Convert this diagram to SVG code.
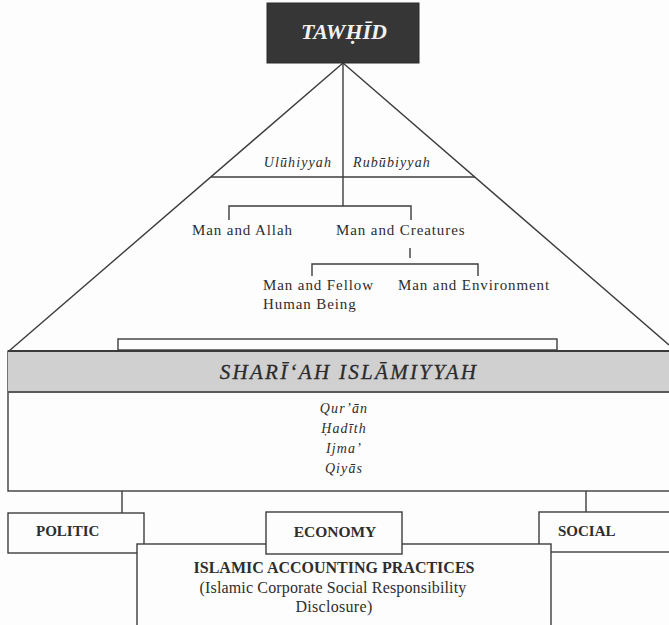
<svg xmlns="http://www.w3.org/2000/svg" width="669" height="625" viewBox="0 0 669 625">
<style>
.ln{stroke:#3c3c3c;stroke-width:1.4;fill:none}
.bx{stroke:#3c3c3c;stroke-width:1.4;fill:#fdfdfd}
.t{font-family:"Liberation Serif","DejaVu Serif",serif;fill:#2e2e2e;font-size:15px;letter-spacing:0.9px}
.it{font-family:"Liberation Serif","DejaVu Serif",serif;fill:#2e2e2e;font-style:italic;font-size:14px;letter-spacing:1.1px}
.b{font-family:"Liberation Serif","DejaVu Serif",serif;fill:#2e2e2e;font-weight:bold;font-size:15px}
</style>
<rect width="669" height="625" fill="#fdfdfd"/>
<g id="connectors">
<line class="ln" x1="343" y1="63" x2="9" y2="351"/>
<line class="ln" x1="343" y1="63" x2="669" y2="345"/>
<line class="ln" x1="343" y1="63" x2="343" y2="206"/>
<line class="ln" x1="211" y1="177" x2="475" y2="177"/>
<polyline class="ln" points="229,220 229,206 411,206 411,220"/>
<line class="ln" x1="410" y1="248" x2="410" y2="258"/>
<polyline class="ln" points="312,276 312,264 478,264 478,276"/>
<line class="ln" x1="122" y1="490" x2="122" y2="513"/>
<line class="ln" x1="586" y1="490" x2="586" y2="512"/>
</g>
<g id="tawhid">
<rect x="267" y="3" width="152" height="60" fill="#363636" stroke="#2a2a2a" stroke-width="1"/>
<text x="344" y="39" text-anchor="middle" font-family="Liberation Serif, DejaVu Serif, serif" font-style="italic" font-weight="bold" font-size="22" fill="#f2f2f2">TAWḤĪD</text>
</g>
<g id="uluhiyyah"><text class="it" x="332" y="167" text-anchor="end">Ulūhiyyah</text></g>
<g id="rububiyyah"><text class="it" x="353" y="167">Rubūbiyyah</text></g>
<g id="man-allah"><text class="t" x="192" y="235">Man and Allah</text></g>
<g id="man-creatures"><text class="t" x="336" y="235">Man and Creatures</text></g>
<g id="man-fellow"><text class="t" x="263" y="290">Man and Fellow</text><text class="t" x="263" y="309">Human Being</text></g>
<g id="man-environment"><text class="t" x="398" y="290">Man and Environment</text></g>
<g id="shariah">
<rect class="bx" x="118" y="339" width="439" height="11"/>
<rect x="8" y="351" width="665" height="140" fill="#fdfdfd" stroke="#3c3c3c" stroke-width="1.4"/>
<rect x="8" y="351" width="665" height="41" fill="#d0d0d0"/>
<line x1="8" y1="351" x2="669" y2="351" stroke="#3a3a3a" stroke-width="2.2"/>
<line x1="8" y1="392" x2="669" y2="392" stroke="#5a5a5a" stroke-width="2"/>
<text x="349" y="379" text-anchor="middle" font-family="Liberation Serif, DejaVu Serif, serif" font-style="italic" font-size="21" letter-spacing="2.3" fill="#2a2a2a" stroke="#2a2a2a" stroke-width="0.3">SHARĪ‘AH ISLĀMIYYAH</text>
<text class="it" x="344" y="413" text-anchor="middle">Qur’ān</text>
<text class="it" x="344" y="433" text-anchor="middle">Ḥadīth</text>
<text class="it" x="344" y="453" text-anchor="middle">Ijma’</text>
<text class="it" x="344" y="473" text-anchor="middle">Qiyās</text>
</g>
<g id="politic">
<rect class="bx" x="8" y="513" width="136" height="40"/>
<text class="b" x="36" y="536">POLITIC</text>
</g>
<g id="social">
<rect class="bx" x="539" y="512" width="140" height="40"/>
<text class="b" x="558" y="536">SOCIAL</text>
</g>
<g id="accounting">
<rect class="bx" x="137" y="544" width="414" height="90"/>
<text class="b" x="334" y="573" text-anchor="middle" style="font-size:16px">ISLAMIC ACCOUNTING PRACTICES</text>
<text class="t" x="333" y="593" text-anchor="middle" style="font-size:16px;letter-spacing:0.15px">(Islamic Corporate Social Responsibility</text>
<text class="t" x="334" y="612" text-anchor="middle" style="font-size:16px;letter-spacing:0.3px">Disclosure)</text>
</g>
<g id="economy">
<rect class="bx" x="266" y="512" width="136" height="42"/>
<text class="b" x="335" y="537" text-anchor="middle" style="font-size:15.5px">ECONOMY</text>
</g>
</svg>
